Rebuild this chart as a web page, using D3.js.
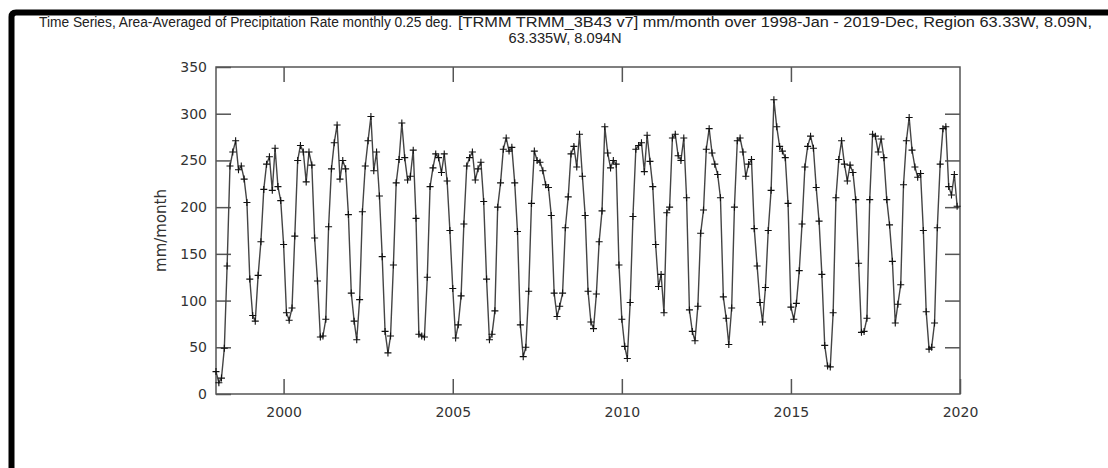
<!DOCTYPE html>
<html>
<head>
<meta charset="utf-8">
<script src="https://cdn.jsdelivr.net/npm/d3@7"></script>
<style>
  html, body { margin: 0; padding: 0; background: #fff; }
  svg { display: block; }
</style>
</head>
<body>
<div id="chart"></div>
<script>
(function () {

  // Titulo del grafico (primera linea en dos tramos, y segunda linea)
  const titleParts = [
    'Time Series, Area-Averaged of Precipitation Rate monthly 0.25 deg.',
    '[TRMM TRMM_3B43 v7] mm/month over 1998-Jan - 2019-Dec, Region 63.33W, 8.09N,'
  ]
  const titleLine2 = '63.335W, 8.094N'
  const yLabel = 'mm/month'

  // Serie mensual, ene 1998 - dic 2019 (una fila por anio)
  const startYear = 1998
  const precip = [
    24, 12, 17, 49, 137, 244, 259, 271, 240, 244, 230, 205,
    123, 84, 78, 127, 163, 219, 246, 254, 218, 263, 222, 207,
    160, 87, 79, 92, 169, 250, 266, 259, 227, 259, 245, 167,
    121, 61, 62, 80, 179, 241, 269, 288, 230, 250, 241, 192,
    108, 78, 58, 101, 195, 244, 271, 297, 239, 259, 212, 147,
    67, 44, 62, 138, 226, 251, 290, 253, 229, 233, 261, 188,
    64, 62, 61, 125, 222, 242, 257, 253, 237, 257, 228, 175,
    113, 60, 74, 105, 182, 244, 253, 259, 229, 241, 248, 206,
    123, 58, 64, 89, 200, 226, 262, 274, 260, 264, 226, 174,
    74, 40, 50, 110, 204, 260, 250, 248, 239, 224, 221, 191,
    108, 83, 94, 108, 178, 211, 257, 265, 243, 278, 233, 191,
    110, 77, 70, 107, 163, 196, 286, 258, 242, 250, 246, 138,
    80, 51, 38, 98, 190, 262, 266, 269, 238, 277, 249, 222,
    160, 115, 128, 87, 194, 200, 274, 278, 255, 250, 274, 210,
    90, 67, 57, 94, 172, 197, 262, 284, 258, 246, 235, 210,
    104, 81, 53, 92, 200, 271, 274, 259, 233, 246, 251, 177,
    137, 98, 77, 114, 175, 218, 315, 286, 265, 260, 253, 204,
    93, 80, 97, 132, 182, 243, 265, 276, 263, 221, 185, 128,
    52, 30, 29, 87, 210, 251, 271, 246, 228, 245, 237, 208,
    140, 66, 67, 81, 208, 278, 276, 259, 273, 253, 208, 181,
    142, 76, 96, 117, 224, 271, 296, 261, 243, 232, 236, 175,
    88, 48, 50, 76, 178, 246, 284, 286, 222, 213, 235, 201
  ]

  // Marcas de los ejes
  const xTickYears = [2000, 2005, 2010, 2015, 2020]
  const yTicks = [0, 50, 100, 150, 200, 250, 300, 350]

  const width = 1108
  const height = 468
  const margin = { top: 67, right: 148, bottom: 74, left: 216 }

  const data = precip.map((v, i) => ({ date: new Date(Date.UTC(startYear, i, 1)), value: v }))

  const svg = d3.select('#chart').append('svg')
    .attr('width', width)
    .attr('height', height)

  svg.append('rect')
    .attr('width', width)
    .attr('height', height)
    .attr('fill', '#fff')

  // Marco negro de la captura (arriba e izquierda)
  svg.append('path')
    .attr('d', `M11.5,${height} V17 Q11.5,12.5 16,12.5 H${width}`)
    .attr('fill', 'none')
    .attr('stroke', '#000')
    .attr('stroke-width', 6)

  // Escalas
  const x = d3.scaleUtc()
    .domain([new Date(Date.UTC(startYear, 0, 1)), new Date(Date.UTC(2020, 0, 1))])
    .range([margin.left, width - margin.right])

  const y = d3.scaleLinear()
    .domain([0, 350])
    .range([height - margin.bottom, margin.top])

  const xTicks = xTickYears.map(yr => new Date(Date.UTC(yr, 0, 1)))
  const axisColor = '#555'
  const tickFont = "'DejaVu Sans', sans-serif"
  const titleFont = "'Liberation Sans', Arial, sans-serif"

  const styleAxis = g => {
    g.select('.domain').remove()
    g.selectAll('.tick line').attr('stroke', axisColor).attr('stroke-width', 1.5)
    g.selectAll('.tick text')
      .attr('fill', '#333')
      .attr('font-family', tickFont)
      .attr('font-size', 14)
  }

  // Ejes: marcas hacia dentro en los cuatro lados
  svg.append('g')
    .attr('transform', `translate(${margin.left},0)`)
    .call(d3.axisLeft(y).tickValues(yTicks).tickSize(-15).tickPadding(9))
    .call(styleAxis)

  svg.append('g')
    .attr('transform', `translate(${width - margin.right},0)`)
    .call(d3.axisRight(y).tickValues(yTicks.slice(1, -1)).tickSize(-15).tickFormat(''))
    .call(styleAxis)

  svg.append('g')
    .attr('transform', `translate(0,${height - margin.bottom})`)
    .call(d3.axisBottom(x).tickValues(xTicks).tickSize(-15).tickPadding(13).tickFormat(d3.utcFormat('%Y')))
    .call(styleAxis)

  svg.append('g')
    .attr('transform', `translate(0,${margin.top})`)
    .call(d3.axisTop(x).tickValues(xTicks.slice(0, -1)).tickSize(-15).tickFormat(''))
    .call(styleAxis)

  // Marco del area de datos
  svg.append('rect')
    .attr('x', margin.left)
    .attr('y', margin.top)
    .attr('width', width - margin.left - margin.right)
    .attr('height', height - margin.top - margin.bottom)
    .attr('fill', 'none')
    .attr('stroke', axisColor)
    .attr('stroke-width', 1.5)

  // Linea de la serie
  const line = d3.line()
    .x(d => x(d.date))
    .y(d => y(d.value))

  svg.append('path')
    .datum(data)
    .attr('d', line)
    .attr('fill', 'none')
    .attr('stroke', '#444')
    .attr('stroke-width', 1.4)

  // Cruces en cada punto
  const s = 3.5
  svg.append('g')
    .selectAll('path')
    .data(data)
    .join('path')
    .attr('d', d => {
      const px = x(d.date), py = y(d.value)
      return `M${px - s},${py}H${px + s}M${px},${py - s}V${py + s}`
    })
    .attr('stroke', '#111')
    .attr('stroke-width', 1.1)

  // Titulo del eje y
  svg.append('text')
    .attr('transform', `translate(166,${(margin.top + height - margin.bottom) / 2}) rotate(-90)`)
    .attr('text-anchor', 'middle')
    .attr('font-family', tickFont)
    .attr('font-size', 15)
    .attr('fill', '#333')
    .text(yLabel)

  // Titulo: dos tramos en la primera linea para seguir el ancho del original
  const titleSpans = [
    { text: titleParts[0], x: 39, len: 413 },
    { text: titleParts[1], x: 458, len: 634 }
  ]
  svg.append('g')
    .selectAll('text')
    .data(titleSpans)
    .join('text')
    .attr('x', d => d.x)
    .attr('y', 27)
    .attr('font-family', titleFont)
    .attr('font-size', 14)
    .attr('fill', '#222')
    .attr('textLength', d => d.len)
    .attr('lengthAdjust', 'spacingAndGlyphs')
    .text(d => d.text)

  svg.append('text')
    .attr('x', 565)
    .attr('y', 43)
    .attr('text-anchor', 'middle')
    .attr('font-family', titleFont)
    .attr('font-size', 14)
    .attr('fill', '#222')
    .attr('textLength', 113)
    .attr('lengthAdjust', 'spacingAndGlyphs')
    .text(titleLine2)

})()
</script>
</body>
</html>
